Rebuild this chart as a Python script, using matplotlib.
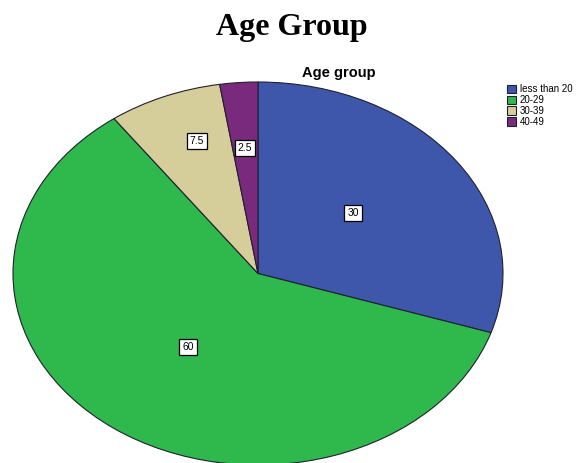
import numpy as np
import matplotlib.pyplot as plt

# datos del gráfico
grupos = ["less than 20", "20-29", "30-39", "40-49"]
porcentajes = [30, 60, 7.5, 2.5]
etiquetas = ["30", "60", "7.5", "2.5"]
colores = ["#3e57ab", "#2fb84b", "#d5cd9a", "#7a2a7c"]

# posiciones de las etiquetas (coordenadas del pie, radio 1)
pos_etiquetas = [(0.388, 0.314), (-0.286, -0.382), (-0.249, 0.691), (-0.053, 0.654)]

fig = plt.figure(figsize=(5.84, 4.63), dpi=100)
ax = fig.add_axes([13 / 584, -2 / 463, 490 / 584, 383 / 463])

wedges, _ = ax.pie(porcentajes, colors=colores, startangle=90, counterclock=False,
                   wedgeprops=dict(edgecolor="#202030", linewidth=0.8))
ax.set_aspect("auto")
ax.set_xlim(-1, 1)
ax.set_ylim(-1, 1)
ax.axis("off")

for (x, y), txt in zip(pos_etiquetas, etiquetas):
    ax.text(x, y, txt, ha="center", va="center", fontsize=7.5, family="Liberation Sans",
            bbox=dict(boxstyle="square,pad=0.3", facecolor="white", edgecolor="black", linewidth=0.9))

fig.text(292 / 584, 1 - 28 / 463, "Age Group", ha="center", va="center",
         fontsize=23, fontweight="bold", family="Liberation Serif")
fig.text(339 / 584, 1 - 73 / 463, "Age group", ha="center", va="center",
         fontsize=10.5, fontweight="bold", family="Liberation Sans")

fig.legend(wedges, grupos, loc="upper left", bbox_to_anchor=(505 / 584, 1 - 82 / 463),
           frameon=False, prop=dict(family="Liberation Sans", size=7),
           handlelength=0.9, handleheight=0.9, handletextpad=0.4, labelspacing=0.1,
           borderpad=0.2, borderaxespad=0)

fig.savefig("out.png", dpi=100, facecolor="white")
